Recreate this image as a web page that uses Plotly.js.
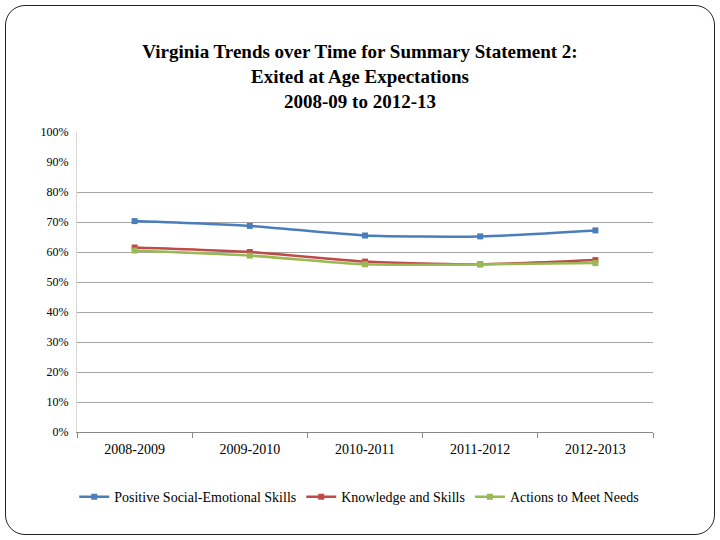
<!DOCTYPE html>
<html>
<head>
<meta charset="utf-8">
<script src="https://cdn.plot.ly/plotly-3.0.1.min.js"></script>
<style>
  html, body { margin: 0; padding: 0; background: #fff; }
  #wrap { position: relative; width: 720px; height: 540px; }
  #chart { position: absolute; left: 0; top: 0; width: 720px; height: 540px; }
  #frame { position: absolute; left: 5px; top: 5px; width: 708px; height: 528px;
           border: 1.3px solid #222; border-radius: 20px; pointer-events: none; }
</style>
</head>
<body>
<div id="wrap">
  <div id="chart"></div>
  <div id="frame"></div>
</div>
<script>
const categories = ["2008-2009", "2009-2010", "2010-2011", "2011-2012", "2012-2013"];
const socialEmotional = [0.703, 0.687, 0.655, 0.652, 0.672];
const knowledgeSkills = [0.615, 0.600, 0.568, 0.559, 0.573];
const actionsNeeds = [0.605, 0.588, 0.559, 0.559, 0.563];
const seriesNames = ["Positive Social-Emotional Skills", "Knowledge and Skills", "Actions to Meet Needs"];
const seriesColors = ["#4a7ebb", "#be4b48", "#98b954"];
const yTickVals = [0, 0.1, 0.2, 0.3, 0.4, 0.5, 0.6, 0.7, 0.8, 0.9, 1.0];
const yGridVals = [0.1, 0.2, 0.3, 0.4, 0.5, 0.6, 0.7, 0.8];

const allSeries = [socialEmotional, knowledgeSkills, actionsNeeds];
const traces = allSeries.map((vals, i) => ({
  type: "scatter",
  mode: "lines+markers",
  x: categories,
  y: vals,
  name: seriesNames[i],
  line: { color: seriesColors[i], width: 2.5, shape: "spline", smoothing: 0.6 },
  marker: { symbol: "square", size: 6, color: seriesColors[i] }
}));

// invisible trace to carry the gridline axis
traces.unshift({
  type: "scatter", mode: "none", x: categories, y: socialEmotional,
  yaxis: "y2", showlegend: false, hoverinfo: "skip"
});

const layout = {
  width: 720,
  height: 540,
  margin: { l: 77, r: 67, t: 132, b: 108 },
  paper_bgcolor: "rgba(0,0,0,0)",
  plot_bgcolor: "#fff",
  title: {
    text: "<b>Virginia Trends over Time for Summary Statement 2:</b><br><b>Exited at Age Expectations</b><br><b>2008-09 to 2012-13</b>",
    font: { family: "Liberation Serif, serif", size: 19, color: "#000" },
    x: 0.5, xanchor: "center",
    y: 0.892, yanchor: "middle"
  },
  xaxis: {
    type: "category",
    range: [-0.5, 4.5],
    showgrid: false,
    showline: true,
    linecolor: "#888",
    linewidth: 1,
    ticks: "outside",
    tickson: "boundaries",
    ticklen: 5,
    tickcolor: "#888",
    ticklabelstandoff: 4,
    tickfont: { family: "Liberation Serif, serif", size: 14, color: "#000" },
    fixedrange: true
  },
  yaxis: {
    range: [0, 1],
    tickvals: yTickVals,
    tickformat: ".0%",
    showgrid: false,
    zeroline: false,
    showline: true,
    linecolor: "#d8d8d8",
    ticks: "",
    ticklabelstandoff: 5,
    tickfont: { family: "Liberation Serif, serif", size: 12, color: "#000" },
    fixedrange: true
  },
  yaxis2: {
    overlaying: "y",
    side: "left",
    range: [0, 1],
    tickvals: yGridVals,
    showticklabels: false,
    showgrid: true,
    gridcolor: "#a6a6a6",
    gridwidth: 1,
    zeroline: false,
    showline: false,
    ticks: "",
    fixedrange: true
  },
  showlegend: true,
  legend: {
    orientation: "h",
    x: 0.49, xanchor: "center",
    y: -0.217, yanchor: "middle",
    font: { family: "Liberation Serif, serif", size: 14, color: "#000" },
    itemwidth: 30,
    tracegroupgap: 0
  }
};

Plotly.newPlot("chart", traces, layout, { displayModeBar: false, staticPlot: true });
</script>
</body>
</html>
